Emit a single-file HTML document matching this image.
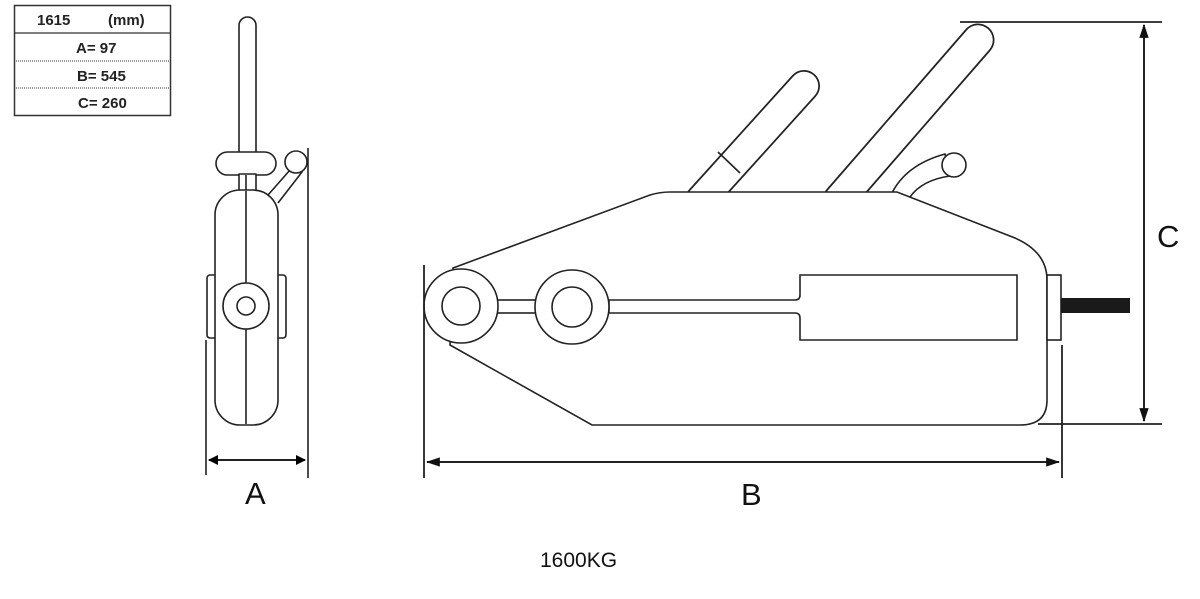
<!DOCTYPE html>
<html><head><meta charset="utf-8"><style>
html,body{margin:0;padding:0;background:#fff;}
svg{display:block}
text{font-family:"Liberation Sans",sans-serif;}
</style></head><body>
<svg width="1200" height="599" viewBox="0 0 1200 599" xmlns="http://www.w3.org/2000/svg">
<defs>
<marker id="ah" viewBox="0 0 10 10" refX="9" refY="5" markerWidth="10" markerHeight="10" markerUnits="userSpaceOnUse" orient="auto-start-reverse">
<path d="M0,0 L10,5 L0,10 Z" fill="#000"/></marker>
<marker id="ah2" viewBox="0 0 12 8" refX="11" refY="4" markerWidth="14" markerHeight="10" markerUnits="userSpaceOnUse" orient="auto-start-reverse">
<path d="M0,0 L12,4 L0,8 Z" fill="#111"/></marker>
</defs>
<!-- table -->
<g stroke="#333" fill="none">
<rect x="14.5" y="5.5" width="156" height="110" stroke-width="1.5"/>
<line x1="14" y1="33" x2="171" y2="33" stroke-width="1.2"/>
<line x1="14" y1="61" x2="171" y2="61" stroke-dasharray="1,1"/>
<line x1="14" y1="88" x2="171" y2="88" stroke-dasharray="1,1"/>
</g>
<g font-weight="bold" font-size="15" fill="#222">
<text x="37" y="25">1615</text><text x="108" y="25">(mm)</text>
<text x="76" y="53">A= 97</text>
<text x="77" y="81">B= 545</text>
<text x="78" y="108">C= 260</text>
</g>
<g stroke="#222" stroke-width="1.6" fill="#fff" stroke-linejoin="round">
<!-- side view -->
<rect x="239" y="17" width="17" height="160" rx="8.5"/>
<rect x="216" y="152" width="60" height="23" rx="11.5"/>
<rect x="239" y="174" width="17" height="18" />
<line x1="246" y1="175" x2="246" y2="191"/>
<path d="M268,195 L290,170 L302,172 L278,203" />
<circle cx="296" cy="162" r="11"/>
<rect x="207" y="275" width="12" height="63" rx="3"/>
<rect x="275" y="275" width="11" height="63" rx="3"/>
<rect x="215" y="190" width="63" height="235" rx="25"/>
<line x1="246" y1="191" x2="246" y2="424"/>
<circle cx="246" cy="306" r="23"/>
<circle cx="246" cy="306" r="9"/>
</g>
<g stroke="#222" stroke-width="1.6" fill="none">
<line x1="308" y1="148" x2="308" y2="478"/>
<line x1="206" y1="340" x2="206" y2="475"/>
<line x1="209" y1="460" x2="305" y2="460" marker-start="url(#ah)" marker-end="url(#ah)" stroke-width="2"/>
</g>
<text x="245" y="504" font-size="31" fill="#111">A</text>
<!-- main view handles -->
<g stroke-linecap="round">
<line x1="701" y1="200" x2="804" y2="86" stroke="#222" stroke-width="32"/>
<line x1="701" y1="200" x2="804" y2="86" stroke="#fff" stroke-width="28.5"/>
<line x1="839" y1="200" x2="978" y2="40" stroke="#222" stroke-width="33"/>
<line x1="839" y1="200" x2="978" y2="40" stroke="#fff" stroke-width="29.5"/>
</g>
<line x1="718" y1="152" x2="740" y2="173" stroke="#222" stroke-width="1.6"/>
<g stroke="#222" stroke-width="1.6" fill="#fff">
<path d="M891,195 Q905,165 945,154 L950,176 Q922,180 910,197 Z"/>
<circle cx="954" cy="165" r="12"/>
<path d="M453,268 L650,195 Q660,192 670,192 L897,192 L1015,238 Q1047,252 1047,280 L1047,400 Q1047,425 1020,425 L592,425 L450,345 Z"/>
<rect x="1047" y="275" width="14" height="65"/>
<path d="M609,300 L795,300 Q800,300 800,295 L800,275 L1017,275 L1017,340 L800,340 L800,318 Q800,313 795,313 L609,313 Z"/>
<rect x="490" y="300" width="50" height="13"/>
<circle cx="461" cy="306" r="37"/>
<circle cx="461" cy="306" r="19"/>
<circle cx="572" cy="307" r="37"/>
<circle cx="572" cy="307" r="20"/>
</g>
<rect x="1061" y="298" width="69" height="15" fill="#1a1a1a"/>
<g stroke="#222" stroke-width="1.8" fill="none">
<line x1="424" y1="265" x2="424" y2="478"/>
<line x1="1062" y1="345" x2="1062" y2="478"/>
<line x1="960" y1="22" x2="1162" y2="22"/>
<line x1="1038" y1="424" x2="1162" y2="424"/>
<line x1="1144" y1="25" x2="1144" y2="421" marker-start="url(#ah2)" marker-end="url(#ah2)" stroke-width="2"/>
<line x1="427" y1="462" x2="1059" y2="462" marker-start="url(#ah2)" marker-end="url(#ah2)" stroke-width="2"/>
</g>
<text x="741" y="505" font-size="31" fill="#111">B</text>
<text x="1157" y="247" font-size="31" fill="#111">C</text>
<text x="540" y="567" font-size="21" fill="#111">1600KG</text>
</svg>
</body></html>
